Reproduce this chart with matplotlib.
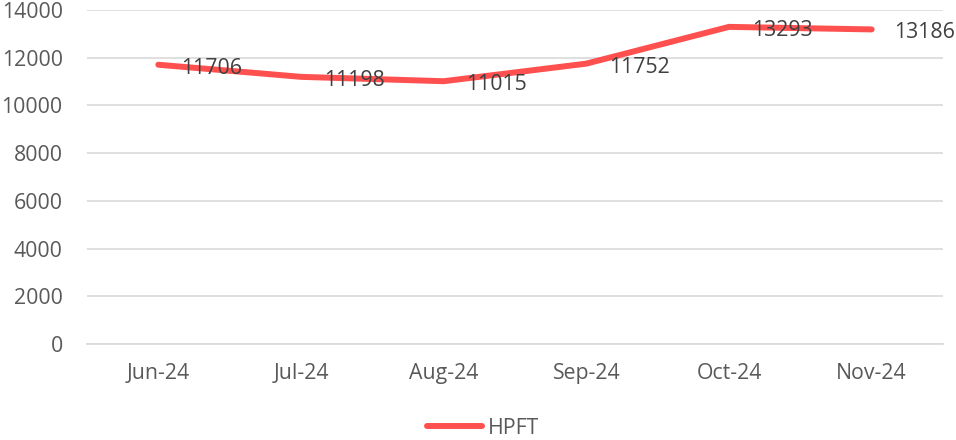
import matplotlib
matplotlib.use("Agg")
import matplotlib.pyplot as plt
from matplotlib.lines import Line2D

months = ["Jun-24", "Jul-24", "Aug-24", "Sep-24", "Oct-24", "Nov-24"]
hpft = [11706, 11198, 11015, 11752, 13293, 13186]
series_name = "HPFT"
yticks = [0, 2000, 4000, 6000, 8000, 10000, 12000, 14000]

plt.rcParams['font.family'] = ['Open Sans', 'DejaVu Sans']
txt = '#595959'
red = '#FF5050'
fs = 15.3

fig = plt.figure(figsize=(9.56, 4.4), dpi=100)
ax = fig.add_axes([87/956, 1-344/440, (943-87)/956, (344-10)/440])
x = list(range(len(months)))
ax.plot(x, hpft, color=red, linewidth=4.3, solid_capstyle='round', solid_joinstyle='round', zorder=3)
for xi, v in zip(x, hpft):
    ax.annotate(str(v), (xi, v), xytext=(16.5, -2.5), textcoords='offset points',
                ha='left', va='center', fontsize=fs, color='#404040', zorder=4)

ax.set_xlim(-0.5, len(months)-0.5)
ax.set_ylim(0, 14000)
ax.set_yticks(yticks)
ax.set_xticks(x)
ax.set_xticklabels(months)
ax.tick_params(axis='both', length=0, labelsize=fs, colors=txt)
ax.tick_params(axis='x', pad=14)
ax.tick_params(axis='y', pad=17.5)
ax.grid(axis='y', color='#D9D9D9', linewidth=1.2)
ax.set_axisbelow(True)
for s in ['top', 'right', 'left']:
    ax.spines[s].set_visible(False)
ax.spines['bottom'].set_color('#D9D9D9')
ax.spines['bottom'].set_linewidth(1.2)

handle = Line2D([0], [0], color=red, linewidth=4.3, solid_capstyle='round')
fig.legend([handle], [series_name], loc='center', bbox_to_anchor=(483/956, 1-428/440),
           frameon=False, fontsize=fs, labelcolor=txt, handlelength=2.6, handletextpad=0.3)
fig.savefig("out.png", dpi=100)
